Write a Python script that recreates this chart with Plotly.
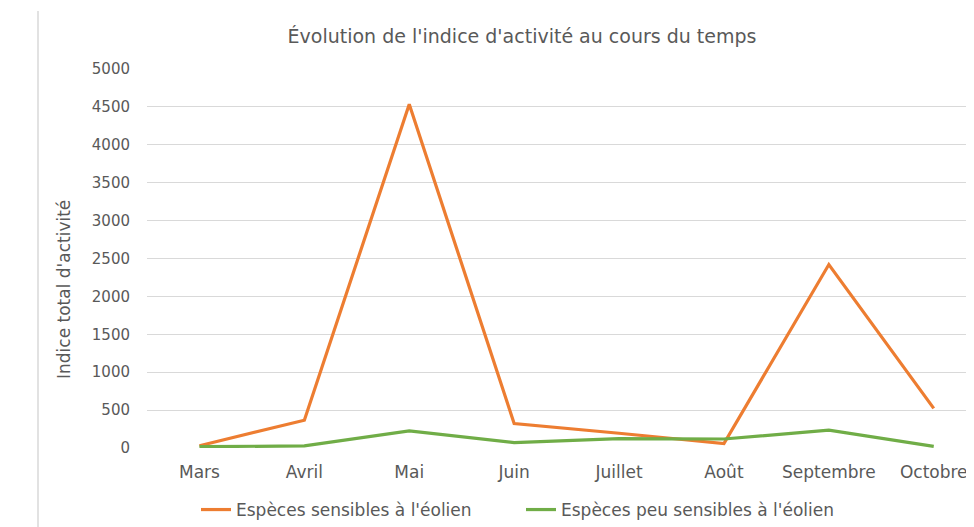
import plotly.graph_objects as go

months = ["Mars", "Avril", "Mai", "Juin", "Juillet", "Août", "Septembre", "Octobre"]
sensibles = [30, 367, 4535, 323, 195, 58, 2420, 522]
peu_sensibles = [18, 27, 225, 72, 125, 119, 235, 22]

OFF = 8  # page body margin
W, H = 974 - OFF, 527 - OFF
L, T = 147 - OFF, 69 - OFF
BOT = 448 - OFF
R, B = 0, H - BOT
pw, ph = W - L - R, H - T - B

gray = "#595959"
font = "DejaVu Sans"


def px(xs):
    return (xs - OFF - L) / pw


def py(ys):
    return (BOT - (ys - OFF)) / ph


fig = go.Figure()
fig.add_trace(go.Scatter(x=list(range(len(months))), y=sensibles, mode="lines",
                         name="Espèces sensibles à l'éolien", legend="legend",
                         line=dict(color="#ED7D31", width=3.2)))
fig.add_trace(go.Scatter(x=list(range(len(months))), y=peu_sensibles, mode="lines",
                         name="Espèces peu sensibles à l'éolien", legend="legend2",
                         line=dict(color="#70AD47", width=3.2)))

spacing = 104.9
leg_common = dict(orientation="h", xanchor="left", xref="paper",
                  yanchor="middle", y=py(510),
                  font=dict(size=17, color=gray), itemwidth=30,
                  bgcolor="rgba(0,0,0,0)")
fig.update_layout(
    width=W, height=H,
    margin=dict(l=L, r=R, t=T, b=B, autoexpand=False),
    paper_bgcolor="white", plot_bgcolor="white",
    font=dict(family=font, color=gray, size=15),
    title=dict(text="Évolution de l'indice d'activité au cours du temps",
               x=(522 - OFF) / W, xanchor="center", y=1 - (36 - OFF) / H, yanchor="middle",
               font=dict(size=19, color=gray, family=font)),
    xaxis=dict(range=[-0.5, -0.5 + pw / spacing], tickmode="array",
               tickvals=list(range(len(months))), ticktext=months,
               showgrid=False, zeroline=False, showline=False,
               ticklabelstandoff=12,
               tickfont=dict(size=17, color=gray), ticks="", ticklen=0),
    yaxis=dict(range=[0, 5000], dtick=500, showgrid=True, gridcolor="#d9d9d9",
               gridwidth=1, zeroline=False, showline=False, ticks="",
               ticklabelstandoff=16,
               tickfont=dict(size=15, color=gray)),
    legend=dict(leg_common, x=px(203 - 7)),
    legend2=dict(leg_common, x=px(528 - 7)),
    showlegend=True,
)

fig.add_annotation(text="Indice total d'activité", textangle=-90,
                   xref="paper", yref="paper",
                   x=px(64), y=py(290),
                   xanchor="center", yanchor="middle", showarrow=False,
                   font=dict(size=17, color=gray, family=font))

fig.add_shape(type="line", xref="paper", yref="paper",
              x0=px(38), x1=px(38), y0=py(11), y1=py(530),
              line=dict(color="#d9d9d9", width=1.5))

fig.write_html("out.html")
